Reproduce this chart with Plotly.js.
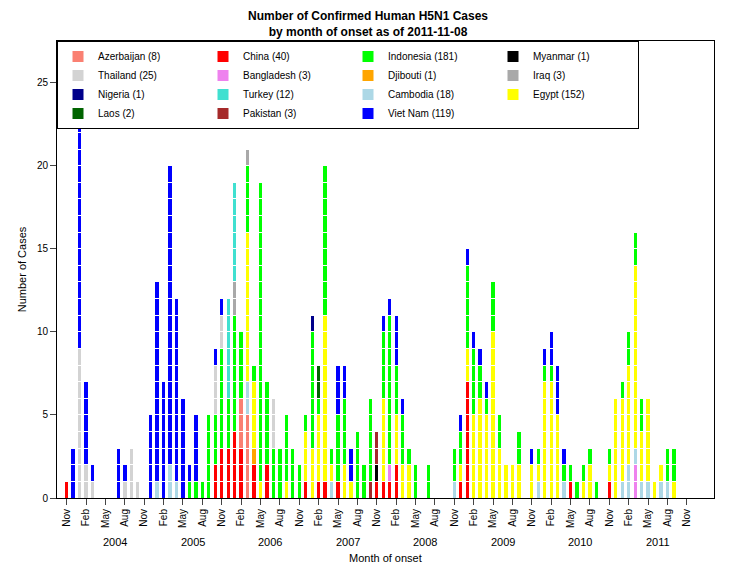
<!DOCTYPE html>
<html><head><meta charset="utf-8">
<script src="https://cdn.plot.ly/plotly-3.0.1.min.js"></script>
<style>body{margin:0;background:#fff}#c{width:736px;height:576px}</style>
</head><body><div id="c"></div>
<script>
// month index 0 = Nov 2003 ... 96 = Nov 2011
const monthNames = ['Nov','Dec','Jan','Feb','Mar','Apr','May','Jun','Jul','Aug','Sep','Oct'];
const tickMonths = [0,3,6,9,12,15,18,21,24,27,30,33,36,39,42,45,48,51,54,57,60,63,66,69,72,75,78,81,84,87,90,93,96];
const years = [2004,2005,2006,2007,2008,2009,2010,2011];

// [month index] and [cases] per country
const chinaM = [0,23,24,25,26,27,29,31,37,39,40,42,48,49,50,51,61,62,78,84];
const chinaN = [1,2,3,3,4,3,2,2,1,1,1,1,1,1,1,2,1,7,1,1];
const azerM = [27,28];            const azerN = [3,5];
const bangM = [50,88];            const bangN = [1,2];
const cambM = [14,16,17,28,41,60,73,77,86,87,88,89,90,92,93];
const cambN = [1,2,1,2,1,1,1,1,1,2,1,1,1,1,1];
const djibM = [29];               const djibN = [1];
const egyptM = [28,29,30,34,37,38,39,40,41,43,44,49,51,52,53,61,62,63,64,65,66,67,68,69,70,72,73,74,75,76,80,81,84,85,86,87,88,89,90,91,92,94];
const egyptN = [9,4,1,1,3,3,4,10,1,2,1,5,3,2,2,1,2,5,6,5,10,3,2,2,2,2,1,7,7,5,1,2,1,6,5,6,11,3,5,1,1,1];
const myanM = [48];               const myanN = [1];
const pakM = [47,48];             const pakN = [1,2];
const indoM = [19,20,21,22,23,24,25,26,27,28,29,30,31,32,33,34,35,36,37,38,39,40,41,42,43,45,46,47,49,50,51,52,53,54,56,60,61,62,63,64,65,66,67,70,73,74,75,77,78,79,80,81,82,84,86,87,88,89,93,94];
const indoN = [1,1,1,5,3,6,3,7,4,4,1,18,5,3,3,4,3,2,1,7,1,9,1,4,4,4,2,5,4,9,3,3,1,2,2,2,2,5,4,2,1,3,2,2,1,1,1,1,1,1,1,1,1,1,1,2,2,2,2,2];
const laosM = [39];               const laosN = [2];
const nigM = [38];                const nigN = [1];
const iraqM = [26,28];            const iraqN = [2,1];
const thaiM = [2,3,4,9,10,11,23,24,32];
const thaiN = [9,2,1,1,3,1,3,2,3];
const turkM = [25,26];            const turkN = [6,6];
const vietM = [1,2,3,4,8,9,13,14,15,16,17,18,19,20,23,24,42,43,44,49,50,51,52,61,62,63,64,65,72,74,75,76,77];
const vietN = [3,14,5,1,3,1,5,12,7,18,11,6,1,4,1,1,3,2,2,1,1,3,1,1,1,1,1,1,1,1,2,3,1];

const countries = [
 {name:'China (40)', m:chinaM, n:chinaN, c:'#ff0000', rank:2},
 {name:'Azerbaijan (8)', m:azerM, n:azerN, c:'#fa8072', rank:1},
 {name:'Bangladesh (3)', m:bangM, n:bangN, c:'#ee82ee', rank:6},
 {name:'Cambodia (18)', m:cambM, n:cambN, c:'#add8e6', rank:11},
 {name:'Djibouti (1)', m:djibM, n:djibN, c:'#ffa500', rank:7},
 {name:'Egypt (152)', m:egyptM, n:egyptN, c:'#ffff00', rank:12},
 {name:'Myanmar (1)', m:myanM, n:myanN, c:'#000000', rank:4},
 {name:'Pakistan (3)', m:pakM, n:pakN, c:'#a52a2a', rank:14},
 {name:'Indonesia (181)', m:indoM, n:indoN, c:'#00ff00', rank:3},
 {name:'Laos (2)', m:laosM, n:laosN, c:'#006400', rank:13},
 {name:'Nigeria (1)', m:nigM, n:nigN, c:'#00008b', rank:9},
 {name:'Iraq (3)', m:iraqM, n:iraqN, c:'#a9a9a9', rank:8},
 {name:'Thailand (25)', m:thaiM, n:thaiN, c:'#d3d3d3', rank:5},
 {name:'Turkey (12)', m:turkM, n:turkN, c:'#40e0d0', rank:10},
 {name:'Viet Nam (119)', m:vietM, n:vietN, c:'#0000ff', rank:15}
];

const traces = [];
countries.forEach(ct => {
  const maxN = Math.max(...ct.n);
  for (let k = 1; k <= maxN; k++) {
    const xs = [], ys = [];
    ct.m.forEach((mi, i) => { if (ct.n[i] >= k) { xs.push(mi); ys.push(1); } });
    traces.push({type:'bar', x:xs, y:ys, name:ct.name, legendgroup:ct.name,
      showlegend:k===1, legendrank:ct.rank,
      marker:{color:ct.c, line:{color:'#ffffff', width:1}}, hoverinfo:'x+name'});
  }
});

const tickText = tickMonths.map(i => monthNames[i % 12]);
const annotations = years.map((yr, i) => ({
  x: 2 + 12*i + 5.5, y: 0, xref:'x', yref:'paper', yshift:-52, text:String(yr),
  showarrow:false, font:{size:11}
}));
annotations.push({x:0.5, y:0, xref:'paper', yref:'paper', yshift:-68, text:'Month of onset', showarrow:false, font:{size:11}});

Plotly.newPlot('c', traces, {
  width:736, height:576, barmode:'stack', bargap:0.33,
  font:{family:'Liberation Sans, Arial, sans-serif', size:11, color:'#000'},
  title:{text:'<b>Number of Confirmed Human H5N1 Cases<br>by month of onset as of 2011-11-08</b>', x:0.5, xanchor:'center', y:0.965, yanchor:'top', font:{size:12}},
  margin:{l:57, r:22, t:41, b:78},
  plot_bgcolor:'#fff', paper_bgcolor:'#fff',
  xaxis:{range:[-1.5,100.2], tickvals:tickMonths, ticktext:tickText, tickangle:-90,
    ticks:'outside', ticklen:6, showgrid:false, zeroline:false, showline:true, mirror:true, linecolor:'#000', tickfont:{size:10}},
  yaxis:{range:[0,27.5], tickvals:[0,5,10,15,20,25], ticks:'outside', ticklen:6, showgrid:false, zeroline:false,
    showline:true, mirror:true, linecolor:'#000', title:{text:'Number of Cases', font:{size:11}, standoff:8}, tickfont:{size:10}},
  legend:{orientation:'h', x:0.0, y:1.0, xanchor:'left', yanchor:'top', bordercolor:'#000', borderwidth:1,
    entrywidth:100, traceorder:'normal', font:{size:10}, bgcolor:'#fff', itemwidth:20, tracegroupgap:0},
  annotations:annotations,
  showlegend:true
}, {staticPlot:true});
</script></body></html>
